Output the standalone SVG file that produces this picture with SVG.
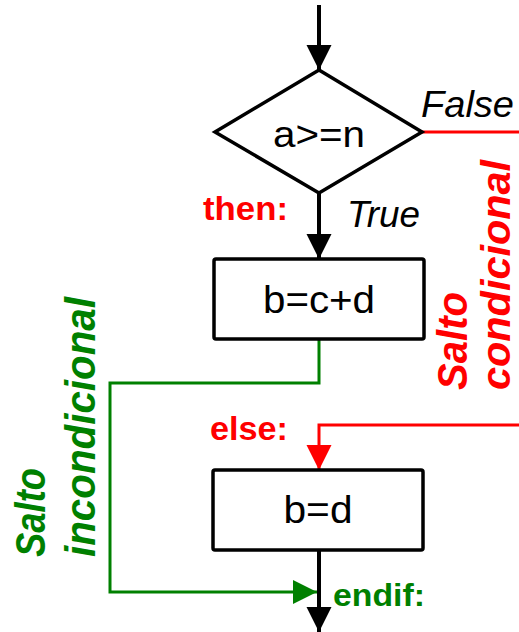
<svg xmlns="http://www.w3.org/2000/svg" width="519" height="632" viewBox="0 0 519 632">
<style>
.shape{fill:#fff;stroke:#000;stroke-width:3.5;stroke-linejoin:miter}
.lbl{font-family:"Liberation Sans",Arial,sans-serif;fill:#000;text-anchor:middle}
.it{font-family:"Liberation Sans",Arial,sans-serif;font-style:italic;fill:#000}
.bred{font-family:"Liberation Sans",Arial,sans-serif;font-weight:bold;fill:#ff0000}
.bgreen{font-family:"Liberation Sans",Arial,sans-serif;font-weight:bold;fill:#008000}
.bired{font-family:"Liberation Sans",Arial,sans-serif;font-weight:bold;font-style:italic;fill:#ff0000}
.bigreen{font-family:"Liberation Sans",Arial,sans-serif;font-weight:bold;font-style:italic;fill:#008000}
.cb{fill:none;stroke:#000;stroke-width:4}
.cr{fill:none;stroke:#ff0000;stroke-width:3}
.cg{fill:none;stroke:#008000;stroke-width:3}
</style>
<defs>
<marker id="ab" markerUnits="userSpaceOnUse" markerWidth="26" markerHeight="26" refX="25" refY="12.5" orient="auto"><path d="M0,0 L25,12.5 L0,25 Z" fill="#000"/></marker>
<marker id="ar" markerUnits="userSpaceOnUse" markerWidth="26" markerHeight="26" refX="25" refY="12.5" orient="auto"><path d="M0,0 L25,12.5 L0,25 Z" fill="#ff0000"/></marker>
<marker id="ag" markerUnits="userSpaceOnUse" markerWidth="26" markerHeight="26" refX="24" refY="12" orient="auto"><path d="M0,0 L24,12 L0,24 Z" fill="#008000"/></marker>
</defs>
<g id="connectors">
<line class="cb" x1="319" y1="5" x2="319" y2="70" marker-end="url(#ab)"/>
<line class="cb" x1="319" y1="193" x2="319" y2="259" marker-end="url(#ab)"/>
<line class="cb" x1="319" y1="550" x2="319" y2="632" marker-end="url(#ab)"/>
<line class="cr" x1="422" y1="132" x2="519" y2="132"/>
<polyline class="cr" points="519,425 319,425 319,470" marker-end="url(#ar)"/>
<polyline class="cg" points="319,339 319,383 110,383 110,592 317,592" marker-end="url(#ag)"/>
</g>
<g id="decision">
<polygon class="shape" points="319,70 422,132 319,193 215,132"/>
<text class="lbl" x="319" y="147" font-size="37" textLength="92" lengthAdjust="spacingAndGlyphs">a&gt;=n</text>
</g>
<g id="then-box">
<rect class="shape" x="214" y="259" width="210" height="80" rx="2"/>
<text class="lbl" x="319" y="313" font-size="39" textLength="112" lengthAdjust="spacingAndGlyphs">b=c+d</text>
</g>
<g id="else-box">
<rect class="shape" x="213" y="470" width="210" height="80" rx="2"/>
<text class="lbl" x="318" y="523" font-size="39" textLength="69" lengthAdjust="spacingAndGlyphs">b=d</text>
</g>
<g id="labels">
<text class="it" x="421" y="117" font-size="36" textLength="93" lengthAdjust="spacingAndGlyphs">False</text>
<text class="it" x="347" y="227" font-size="37" textLength="73" lengthAdjust="spacingAndGlyphs">True</text>
<text class="bred" x="203" y="220" font-size="33" textLength="85" lengthAdjust="spacingAndGlyphs">then:</text>
<text class="bred" x="210" y="440" font-size="33" textLength="78" lengthAdjust="spacingAndGlyphs">else:</text>
<text class="bgreen" x="333" y="606" font-size="32" textLength="92" lengthAdjust="spacingAndGlyphs">endif:</text>
<text class="bired" transform="translate(467,390) rotate(-90)" font-size="43" textLength="98" lengthAdjust="spacingAndGlyphs">Salto</text>
<text class="bired" transform="translate(510,390) rotate(-90)" font-size="40" textLength="230" lengthAdjust="spacingAndGlyphs">condicional</text>
<text class="bigreen" transform="translate(45,557) rotate(-90)" font-size="42" textLength="89" lengthAdjust="spacingAndGlyphs">Salto</text>
<text class="bigreen" transform="translate(95,557) rotate(-90)" font-size="42" textLength="260" lengthAdjust="spacingAndGlyphs">incondicional</text>
</g>
</svg>
